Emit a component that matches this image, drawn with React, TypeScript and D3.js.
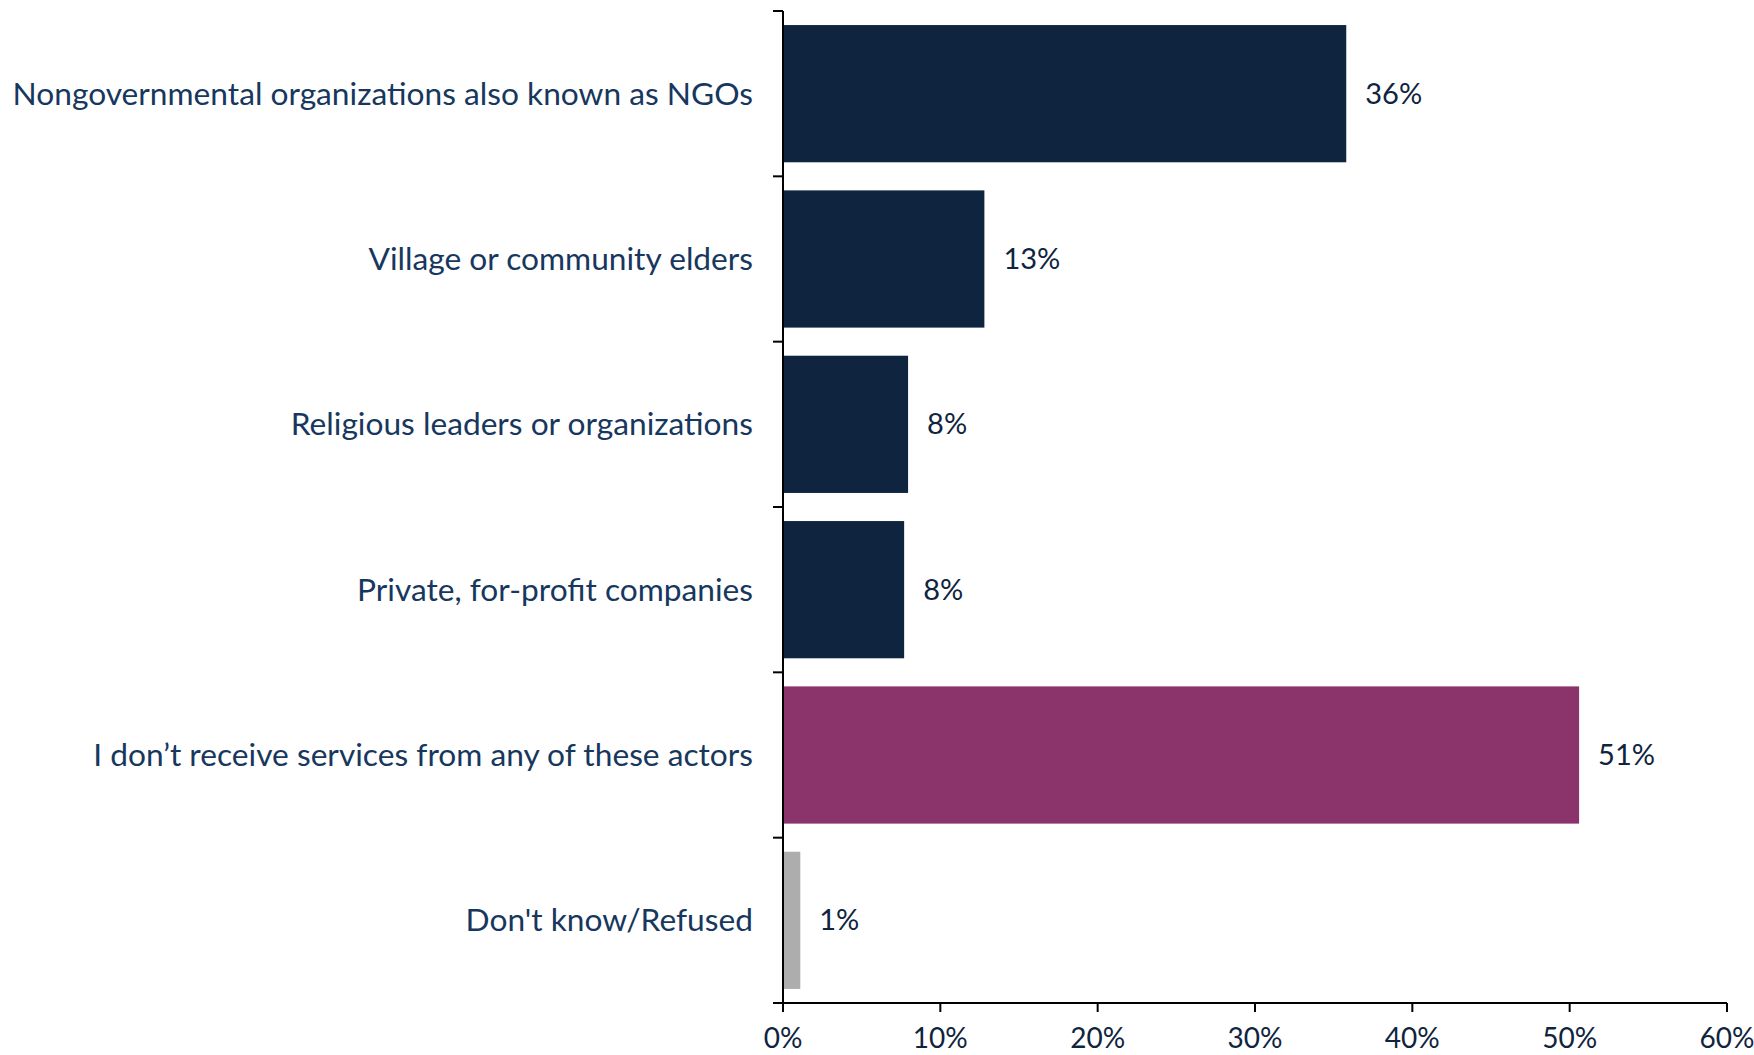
import React from "react";
import * as d3 from "d3";

const categories = [
  "Nongovernmental organizations also known as NGOs",
  "Village or community elders",
  "Religious leaders or organizations",
  "Private, for-profit companies",
  "I don\u2019t receive services from any of these actors",
  "Don't know/Refused",
];
const values = [35.8, 12.8, 7.95, 7.7, 50.6, 1.1];
const barColors = ["#0F243E", "#0F243E", "#0F243E", "#0F243E", "#8B336B", "#ADADAD"];
const xTicks = [0, 10, 20, 30, 40, 50, 60];

const W = 1754;
const H = 1055;

export default function App() {
  const x = d3.scaleLinear().domain([0, 60]).range([783, 1727]);
  const y = d3
    .scaleBand<string>()
    .domain(categories)
    .range([11, 1003])
    .paddingInner(0.17)
    .paddingOuter(0.085);
  const step = y.step();
  const boundaries = d3.range(categories.length + 1).map((i) => 11 + i * step);
  const fmt = (v: number) => `${Math.round(v)}%`;
  const catFont = "Lato, 'Noto Sans', sans-serif";
  const numFont = "Lato, 'Noto Sans', sans-serif";

  return (
    <svg
      width={W}
      height={H}
      style={{ position: "absolute", left: 0, top: 0, display: "block", background: "#fff" }}
    >
      {categories.map((c, i) => (
        <rect
          key={c}
          x={x(0)}
          y={y(c)}
          width={x(values[i]) - x(0)}
          height={y.bandwidth()}
          fill={barColors[i]}
        />
      ))}
      {/* y axis */}
      <line x1={x(0)} x2={x(0)} y1={boundaries[0]} y2={boundaries[boundaries.length - 1]} stroke="#000" strokeWidth={2} />
      {boundaries.map((b, i) => (
        <line key={i} x1={x(0) - 10} x2={x(0)} y1={b} y2={b} stroke="#000" strokeWidth={2} />
      ))}
      {/* x axis */}
      <line x1={x(0) - 10} x2={x(60)} y1={1003} y2={1003} stroke="#000" strokeWidth={2} />
      {xTicks.map((t) => (
        <g key={t}>
          <line x1={x(t)} x2={x(t)} y1={1003} y2={1012} stroke="#000" strokeWidth={2} />
          <text
            x={x(t)}
            y={1048}
            textAnchor="middle"
            fontFamily={numFont}
            fontSize={28}
            fill="#0F243E"
          >
            {t}%
          </text>
        </g>
      ))}
      {categories.map((c) => (
        <text
          key={c + "lab"}
          x={753}
          y={(y(c) as number) + y.bandwidth() / 2}
          dy="0.35em"
          textAnchor="end"
          fontFamily={catFont}
          fontSize={31.7}
          fill="#17375E"
        >
          {c}
        </text>
      ))}
      {categories.map((c, i) => (
        <text
          key={c + "val"}
          x={x(values[i]) + 19}
          y={(y(c) as number) + y.bandwidth() / 2}
          dy="0.35em"
          fontFamily={numFont}
          fontSize={29}
          fill="#0F243E"
        >
          {fmt(values[i])}
        </text>
      ))}
    </svg>
  );
}
